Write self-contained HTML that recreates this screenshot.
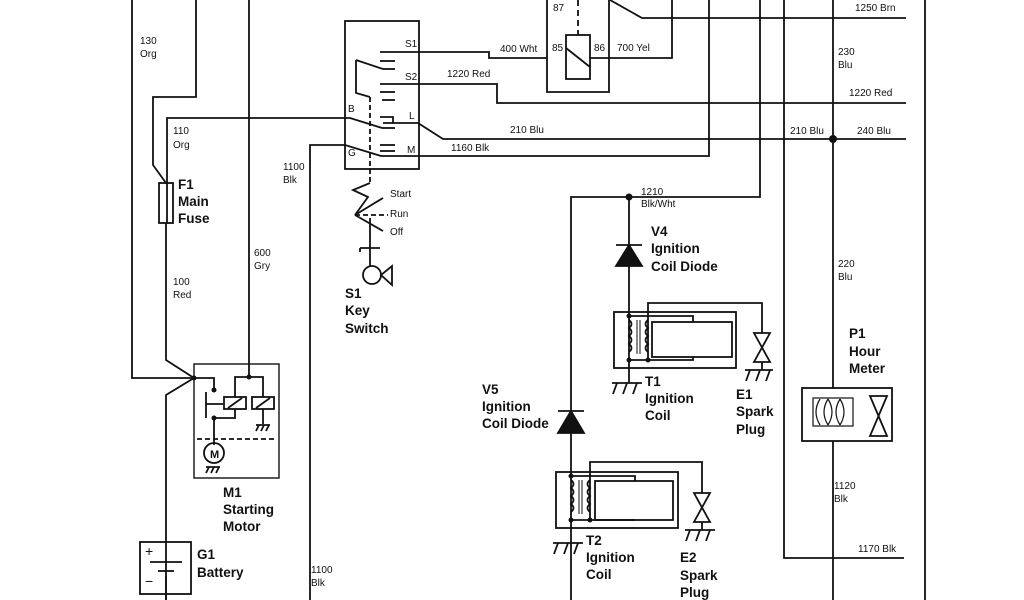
<!DOCTYPE html>
<html><head><meta charset="utf-8"><style>
html,body{margin:0;padding:0;background:#fff}
svg{display:block}
text{font-family:"Liberation Sans",Arial,sans-serif;fill:#111}
.s{font-size:10px}
.b{font-size:13.5px;font-weight:bold}
</style></head><body>
<svg width="1024" height="600" viewBox="0 0 1024 600" xmlns="http://www.w3.org/2000/svg">
<g stroke="#111" stroke-width="1.8" fill="none">
<!-- left wires -->
<polyline points="132,0 132,378 194,378"/>
<polyline points="196,0 196,97 153,97 153,165 166,183"/>
<rect x="159" y="183" width="14" height="40"/>
<polyline points="166,223 166,360 194,378 166,395 166,600"/>
<polyline points="167,223 167,118 350,118 382,128"/>
<line x1="249" y1="0" x2="249" y2="378"/>
<polyline points="310,600 310,145 345,145 381,156 709,156 709,0"/>
<!-- key switch box -->
<rect x="345" y="21" width="74" height="148"/>
<polyline points="380,52 489,52 489,58 547,58"/>
<line x1="380" y1="61" x2="395" y2="61"/>
<polyline points="356,60 356,93 370,97"/>
<line x1="356" y1="60" x2="383" y2="69"/>
<line x1="383" y1="69" x2="395" y2="69"/>
<polyline points="380,84 497,84 497,103 906,103"/>
<line x1="380" y1="92" x2="395" y2="92"/>
<line x1="382" y1="100" x2="395" y2="100"/>
<polyline points="380,117 393,117 393,123"/>
<polyline points="382,128 395,128"/>
<polyline points="383,123 418,123 443,139 906,139"/>
<line x1="380" y1="145" x2="395" y2="145"/>
<line x1="380" y1="151" x2="395" y2="151"/>
<line x1="370" y1="97" x2="370" y2="183" stroke-dasharray="5,3"/>
<!-- key -->
<polyline points="370,183 353,190 368,197 355,215 383,198"/>
<polyline points="355,215 383,231"/>
<line x1="355" y1="215" x2="388" y2="215" stroke-dasharray="5,3"/>
<polyline points="370,218 370,267"/>
<line x1="360" y1="248" x2="380" y2="248"/>
<line x1="360" y1="248" x2="360" y2="252"/>
<circle cx="372" cy="275" r="9"/>
<polygon points="381,275 392,266 392,285"/>
<!-- relay -->
<polyline points="547,0 547,92 609,92 609,0"/>
<rect x="566" y="35" width="24" height="44"/>
<line x1="566" y1="48" x2="590" y2="67"/>
<line x1="578" y1="0" x2="578" y2="35" stroke-dasharray="6,4"/>
<polyline points="590,58 672,58 672,0"/>
<polyline points="610,0 642,18 906,18"/>
<!-- verticals right -->
<polyline points="760,0 760,197 571,197 571,600"/>
<polyline points="784,0 784,558 904,558"/>
<line x1="833" y1="0" x2="833" y2="388"/>
<line x1="833" y1="441" x2="833" y2="600"/>
<line x1="925" y1="0" x2="925" y2="600"/>
<rect x="802" y="388" width="90" height="53"/>
<rect x="813" y="398" width="40" height="28" stroke-width="1.2"/>
<path d="M820,399 Q812,412 820,425 M828,399 Q820,412 828,425 M828,399 Q836,412 828,425 M840,399 Q832,412 840,425 M840,399 Q848,412 840,425" stroke-width="1.2"/>
<polygon points="870,396 887,396 870,436 887,436"/>
<!-- V4 diode & T1 -->
<line x1="629" y1="197" x2="629" y2="383"/>
<line x1="616" y1="245" x2="642" y2="245"/>
<polygon points="629,245 616,266 642,266" fill="#111"/>
<rect x="614" y="312" width="122" height="56"/>
<polyline points="629,316 693,316 693,322"/>
<rect x="652" y="322" width="80" height="35"/>
<polyline points="629,360 693,360 693,357"/>
<path d="M629,320 q5,4 0,8 q5,4 0,8 q5,4 0,8 q5,4 0,8"/>
<path d="M648,320 q-5,4 0,8 q-5,4 0,8 q-5,4 0,8 q-5,4 0,8"/>
<line x1="637" y1="320" x2="637" y2="354" stroke-width="1"/>
<line x1="640" y1="320" x2="640" y2="354" stroke-width="1"/>
<polyline points="648,360 648,303 762,303 762,333"/>
<polygon points="754,333 770,333 754,362 770,362"/>
<line x1="762" y1="362" x2="762" y2="370"/>
<path d="M745,370 h28 M750,370 l-4,11 M760,370 l-4,11 M770,370 l-4,11"/>
<path d="M612,383 h30 M617,383 l-4,11 M627,383 l-4,11 M637,383 l-4,11"/>
<!-- V5 & T2 -->
<line x1="558" y1="411" x2="584" y2="411"/>
<polygon points="571,411 558,433 584,433" fill="#111"/>
<rect x="556" y="472" width="122" height="56"/>
<polyline points="571,476 635,476 635,481"/>
<rect x="595" y="481" width="78" height="39"/>
<polyline points="571,520 635,520"/>
<path d="M571,480 q5,4 0,8 q5,4 0,8 q5,4 0,8 q5,4 0,8"/>
<path d="M590,480 q-5,4 0,8 q-5,4 0,8 q-5,4 0,8 q-5,4 0,8"/>
<line x1="579" y1="480" x2="579" y2="514" stroke-width="1"/>
<line x1="582" y1="480" x2="582" y2="514" stroke-width="1"/>
<polyline points="590,520 590,462 702,462 702,493"/>
<polygon points="694,493 710,493 694,522 710,522"/>
<line x1="702" y1="522" x2="702" y2="530"/>
<path d="M685,530 h30 M690,530 l-4,11 M700,530 l-4,11 M710,530 l-4,11"/>
<path d="M553,543 h30 M558,543 l-4,11 M568,543 l-4,11 M578,543 l-4,11"/>
<!-- M1 -->
<rect x="194" y="364" width="85" height="114" stroke-width="1.4"/>
<polyline points="194,378 214,378 214,390"/>
<line x1="206" y1="392" x2="206" y2="418"/>
<line x1="206" y1="404" x2="223" y2="404"/>
<rect x="224" y="397" width="22" height="12"/>
<line x1="228" y1="408" x2="242" y2="398"/>
<rect x="252" y="397" width="22" height="12"/>
<line x1="256" y1="408" x2="270" y2="398"/>
<polyline points="235,397 235,377 263,377 263,397"/>
<polyline points="214,418 235,418 235,409"/>
<line x1="214" y1="418" x2="214" y2="445"/>
<line x1="197" y1="439" x2="274" y2="439" stroke-dasharray="5,3"/>
<circle cx="214" cy="453" r="10"/>
<path d="M206,467 h14 M209,467 l-3,6 M214,467 l-3,6 M219,467 l-3,6"/>
<path d="M263,409 v15 M256,425 h14 M259,425 l-3,6 M264,425 l-3,6 M269,425 l-3,6"/>
<!-- battery -->
<rect x="140" y="542" width="51" height="52"/>
<line x1="150" y1="562" x2="182" y2="562"/>
<line x1="158" y1="571" x2="174" y2="571"/>
<line x1="166" y1="576" x2="166" y2="600"/>
</g>
<g fill="#111">
<circle cx="833" cy="139" r="4"/>
<circle cx="629" cy="197" r="3.5"/>
<circle cx="194" cy="378" r="2.5"/>
<circle cx="214" cy="390" r="2.5"/>
<circle cx="249" cy="377" r="2.5"/>
<circle cx="214" cy="418" r="2.5"/>
<circle cx="629" cy="316" r="2.5"/><circle cx="629" cy="360" r="2.5"/><circle cx="648" cy="360" r="2.5"/>
<circle cx="571" cy="476" r="2.5"/><circle cx="571" cy="520" r="2.5"/><circle cx="590" cy="520" r="2.5"/>
</g>
<text x="210" y="458" style="font-size:11px;font-weight:bold">M</text>
<text x="145" y="556" style="font-size:14px">+</text>
<text x="145" y="586" style="font-size:14px">−</text>
<g class="s">
<text x="140" y="44">130</text><text x="140" y="57">Org</text>
<text x="173" y="134">110</text><text x="173" y="148">Org</text>
<text x="173" y="285">100</text><text x="173" y="298">Red</text>
<text x="254" y="256">600</text><text x="254" y="269">Gry</text>
<text x="283" y="170">1100</text><text x="283" y="183">Blk</text>
<text x="311" y="573">1100</text><text x="311" y="586">Blk</text>
<text x="405" y="47">S1</text><text x="405" y="80">S2</text>
<text x="348" y="112">B</text><text x="409" y="119">L</text>
<text x="348" y="156">G</text><text x="407" y="153">M</text>
<text x="390" y="197">Start</text><text x="390" y="217">Run</text><text x="390" y="235">Off</text>
<text x="447" y="77">1220 Red</text>
<text x="451" y="151">1160 Blk</text>
<text x="500" y="52">400 Wht</text>
<text x="552" y="51">85</text><text x="594" y="51">86</text><text x="617" y="51">700 Yel</text>
<text x="553" y="11">87</text>
<text x="510" y="133">210 Blu</text>
<text x="855" y="11">1250 Brn</text>
<text x="838" y="55">230</text><text x="838" y="68">Blu</text>
<text x="849" y="96">1220 Red</text>
<text x="790" y="134">210 Blu</text><text x="857" y="134">240 Blu</text>
<text x="641" y="195">1210</text><text x="641" y="207">Blk/Wht</text>
<text x="838" y="267">220</text><text x="838" y="280">Blu</text>
<text x="834" y="489">1120</text><text x="834" y="502">Blk</text>
<text x="858" y="552">1170 Blk</text>
</g>
<g class="b">
<text x="178" y="189">F1</text><text x="178" y="206">Main</text><text x="178" y="223">Fuse</text>
<text x="345" y="298">S1</text><text x="345" y="315">Key</text><text x="345" y="333">Switch</text>
<text x="651" y="236">V4</text><text x="651" y="253">Ignition</text><text x="651" y="271">Coil Diode</text>
<text x="482" y="394">V5</text><text x="482" y="411">Ignition</text><text x="482" y="428">Coil Diode</text>
<text x="645" y="386">T1</text><text x="645" y="403">Ignition</text><text x="645" y="420">Coil</text>
<text x="736" y="399">E1</text><text x="736" y="416">Spark</text><text x="736" y="434">Plug</text>
<text x="849" y="338">P1</text><text x="849" y="356">Hour</text><text x="849" y="373">Meter</text>
<text x="586" y="545">T2</text><text x="586" y="562">Ignition</text><text x="586" y="579">Coil</text>
<text x="680" y="562">E2</text><text x="680" y="580">Spark</text><text x="680" y="597">Plug</text>
<text x="223" y="497">M1</text><text x="223" y="514">Starting</text><text x="223" y="531">Motor</text>
<text x="197" y="559">G1</text><text x="197" y="577">Battery</text>
</g>
</svg>
</body></html>
